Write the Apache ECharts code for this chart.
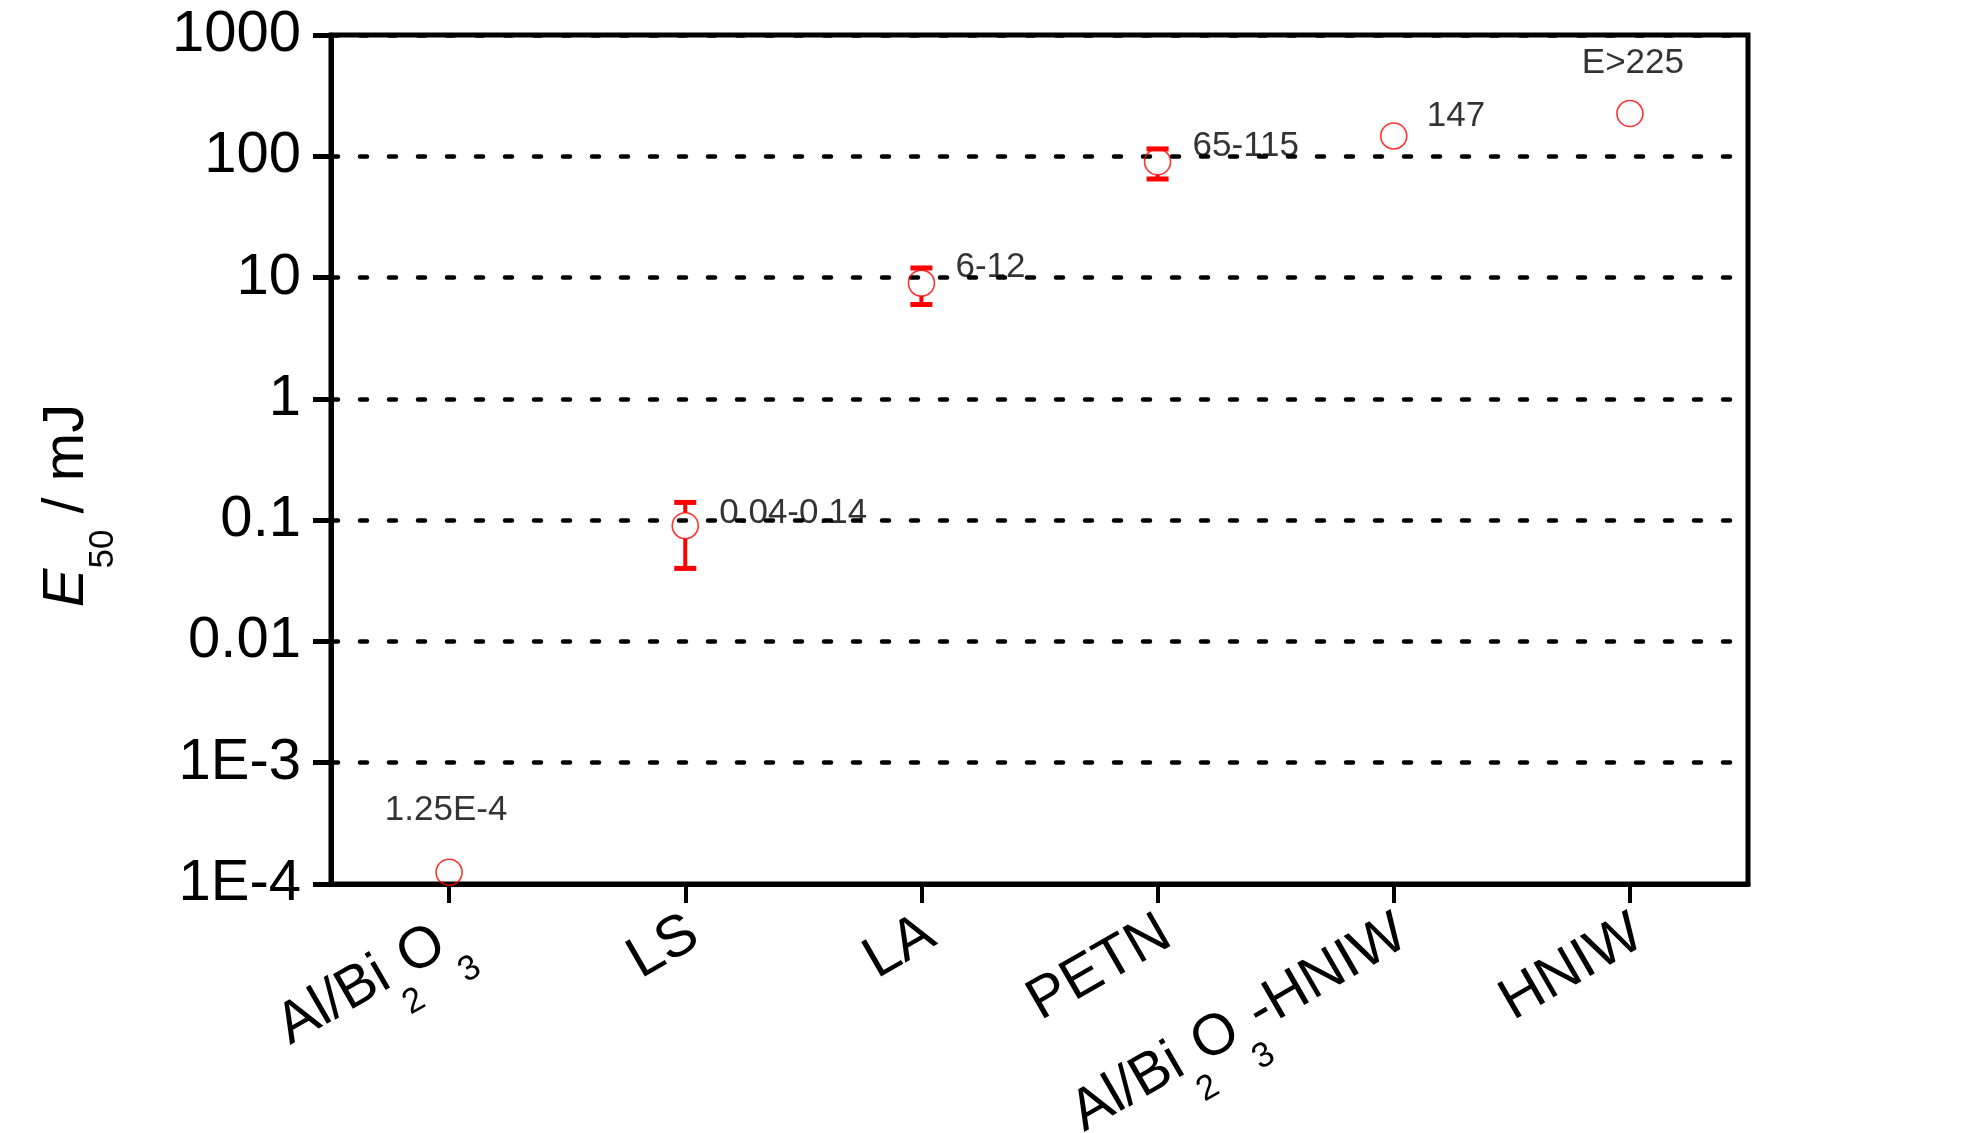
<!DOCTYPE html>
<html><head><meta charset="utf-8">
<script src="https://cdn.jsdelivr.net/npm/echarts@6/dist/echarts.min.js"></script>
<style>html,body{margin:0;padding:0;background:#fff;}#c{width:1984px;height:1133px;}</style>
</head><body><div id="c"></div>
<script>
// ---- data ----
const categories = ['Al/Bi2O3', 'LS', 'LA', 'PETN', 'Al/Bi2O3-HNIW', 'HNIW'];
const e50Values = [1.25e-4, 0.09, 9, 90, 147, 225];
const valueLabels = ['1.25E-4', '0.04-0.14', '6-12', '65-115', '147', 'E>225'];
const errCategories = ['LS', 'LA', 'PETN'];
const errLow = [0.04, 6, 65];
const errHigh = [0.14, 12, 115];
const yTickValues = [1e-4, 1e-3, 0.01, 0.1, 1, 10, 100, 1000];
const yTickLabels = ['1E-4', '1E-3', '0.01', '0.1', '1', '10', '100', '1000'];

// ---- style ----
const FONT = "'Liberation Sans', Arial, sans-serif";
const RED = '#ff0000';
const BIG = 58, SUB = 35;
const labelPlacement = [
  { align: 'center', offset: [-3, -62] },
  { align: 'left', offset: [34, -12] },
  { align: 'left', offset: [34, -16] },
  { align: 'left', offset: [35, -15] },
  { align: 'left', offset: [33, -20] },
  { align: 'center', offset: [3, -50] }
];

function richName(s) {
  return s.replace(/(\d+)|([^\d]+)/g, (m, d, t) => d ? '{s|' + d + '}' : '{a|' + t + '}');
}

const chart = echarts.init(document.getElementById('c'), null, { renderer: 'canvas' });

const errData = errCategories.map((c, k) => {
  const i = categories.indexOf(c);
  return [i, errLow[k], errHigh[k], e50Values[i]];
});

function renderErr(params, api) {
  const x = api.value(0);
  const lo = api.coord([x, api.value(1)]);
  const hi = api.coord([x, api.value(2)]);
  const mid = api.coord([x, api.value(3)]);
  const r = 13, hw = 11;
  const st = { stroke: RED, lineWidth: 4, fill: null };
  const cap = { stroke: RED, lineWidth: 5, fill: null };
  const ch = [];
  if (mid[1] - r > hi[1]) ch.push({ type: 'line', shape: { x1: hi[0], y1: hi[1], x2: hi[0], y2: mid[1] - r }, style: st });
  if (lo[1] > mid[1] + r) ch.push({ type: 'line', shape: { x1: lo[0], y1: mid[1] + r, x2: lo[0], y2: lo[1] }, style: st });
  ch.push({ type: 'line', shape: { x1: hi[0] - hw, y1: hi[1], x2: hi[0] + hw, y2: hi[1] }, style: cap });
  ch.push({ type: 'line', shape: { x1: lo[0] - hw, y1: lo[1], x2: lo[0] + hw, y2: lo[1] }, style: cap });
  return { type: 'group', children: ch };
}

const option = {
  backgroundColor: '#ffffff',
  animation: false,
  grid: {
    left: 331, right: 236, top: 35, bottom: 249,
    show: true, borderColor: '#000', borderWidth: 5,
    outerBoundsMode: 'none', containLabel: false
  },
  xAxis: {
    type: 'category',
    data: categories,
    boundaryGap: true,
    axisLine: { show: true, lineStyle: { color: '#000', width: 5 } },
    axisTick: { show: true, alignWithLabel: true, length: 19, lineStyle: { color: '#000', width: 4 } },
    splitLine: { show: false },
    axisLabel: {
      interval: 0, rotate: 30, margin: 30, hideOverlap: false,
      color: '#000', fontFamily: FONT,
      formatter: (v) => richName(v),
      rich: {
        a: { fontFamily: FONT, fontSize: BIG, color: '#000', lineHeight: BIG, verticalAlign: 'top', padding: [18, 0, 0, 0] },
        s: { fontFamily: FONT, fontSize: SUB, color: '#000', lineHeight: BIG, verticalAlign: 'top', padding: [70, 0, 0, 0] }
      }
    }
  },
  yAxis: {
    type: 'log', logBase: 10, min: 1e-4, max: 1000, splitNumber: 7,
    axisLine: { show: true, lineStyle: { color: '#000', width: 5 } },
    axisTick: { show: true, length: 18, lineStyle: { color: '#000', width: 5 } },
    minorTick: { show: false },
    axisLabel: {
      color: '#000', fontFamily: FONT, fontSize: BIG, margin: 30, padding: [0, 0, 20, 0],
      formatter: (v) => {
        const k = yTickValues.findIndex(t => Math.abs(Math.log10(t) - Math.log10(v)) < 1e-6);
        return k >= 0 ? yTickLabels[k] : '';
      }
    },
    splitLine: { show: true, lineStyle: { color: '#000', width: 4.5, type: [7, 22], cap: 'round' } },
    name: '{e|E}{s|50}{n| / mJ}',
    nameLocation: 'middle',
    nameRotate: 90,
    nameGap: 235,
    nameTextStyle: {
      padding: [0, 92, 0, 0],
      rich: {
        e: { fontFamily: FONT, fontSize: BIG, fontStyle: 'italic', color: '#000', lineHeight: BIG, verticalAlign: 'top' },
        s: { fontFamily: FONT, fontSize: SUB, color: '#000', lineHeight: BIG, verticalAlign: 'top', padding: [48, 0, 0, 0] },
        n: { fontFamily: FONT, fontSize: BIG, color: '#000', lineHeight: BIG, verticalAlign: 'top' }
      }
    }
  },
  series: [
    {
      type: 'custom',
      renderItem: renderErr,
      data: errData,
      encode: { x: 0, y: [1, 2] },
      z: 3,
      silent: true
    },
    {
      type: 'scatter',
      symbol: 'circle',
      symbolSize: 26,
      z: 4,
      itemStyle: { color: 'rgba(0,0,0,0)', borderColor: RED, borderWidth: 1.6 },
      data: e50Values.map((v, i) => ({
        value: [i, v],
        label: {
          show: true,
          formatter: valueLabels[i],
          position: 'inside',
          align: labelPlacement[i].align,
          verticalAlign: 'middle',
          offset: labelPlacement[i].offset,
          fontFamily: FONT, fontSize: 35, color: '#000'
        }
      }))
    }
  ]
};
chart.setOption(option);
</script></body></html>
